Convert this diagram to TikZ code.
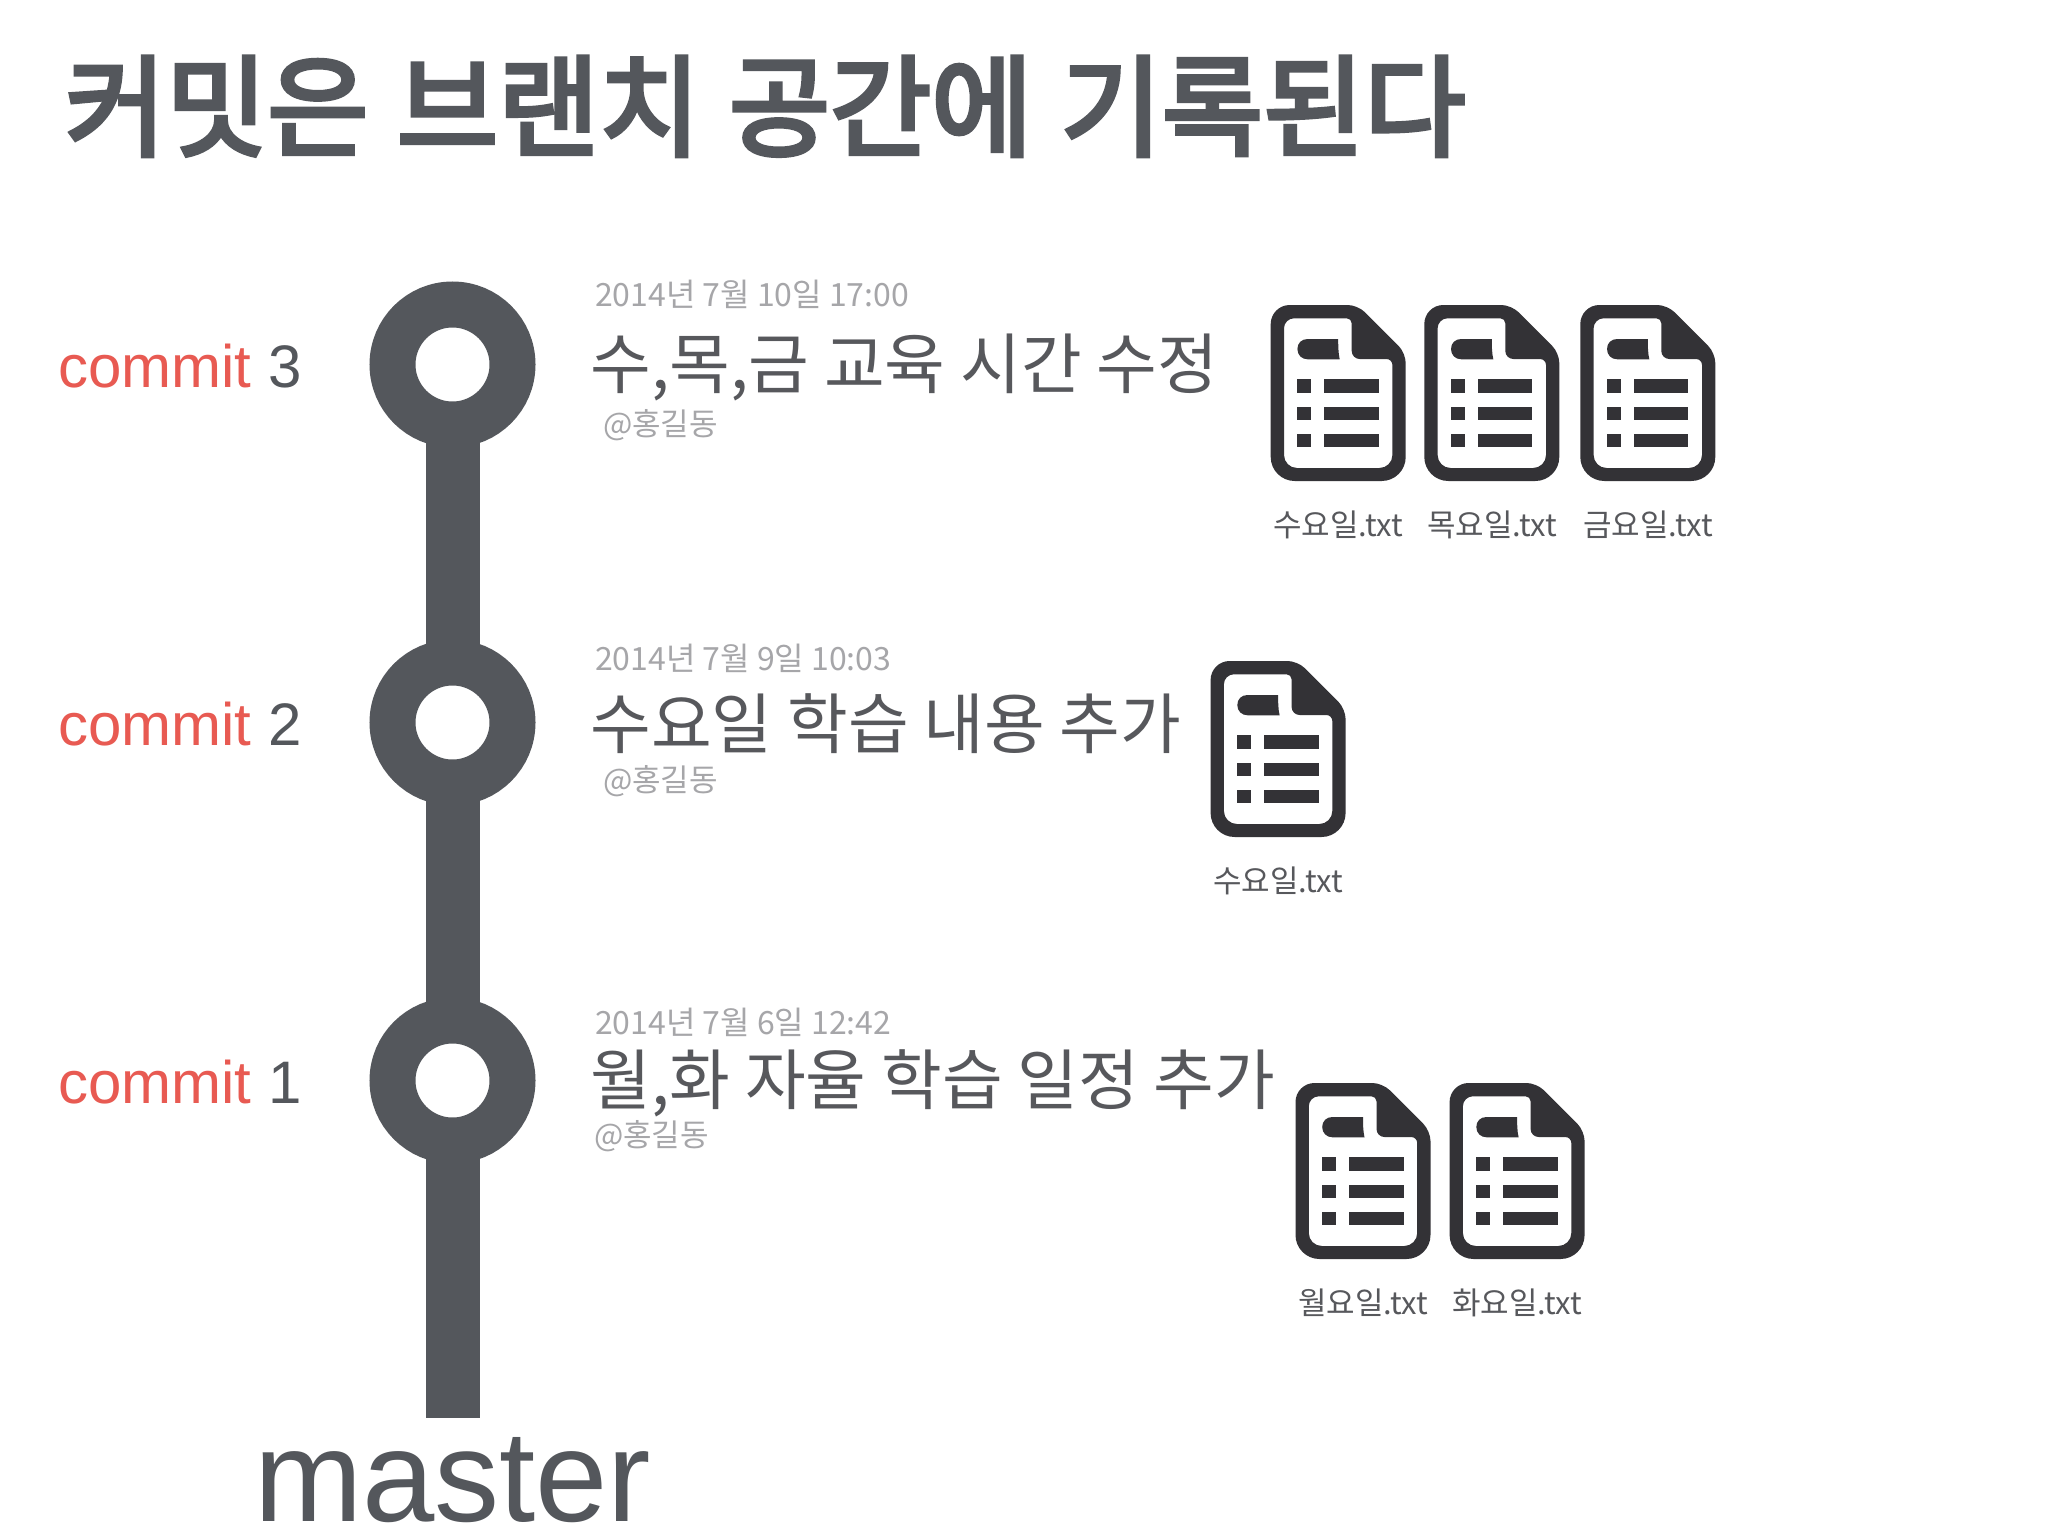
\documentclass[tikz,border=0pt]{standalone}
\usepackage{fontspec}
\usetikzlibrary{backgrounds}
\setmainfont{Liberation Sans}
\newfontfamily\kr{Noto Sans CJK KR}
\newfontfamily\krtitle[FakeBold=4,WordSpace=1.15]{Noto Sans CJK KR}
\definecolor{trunkgray}{HTML}{54575C}
\definecolor{iconblack}{HTML}{333236}
\definecolor{softgray}{HTML}{A6A6A9}
\definecolor{headgray}{HTML}{57585C}
\definecolor{commitred}{HTML}{E85A52}
\newcommand{\fsz}[1]{\fontsize{#1}{#1}\selectfont}
\tikzset{
  x=1pt,y=-1pt,
  every node/.style={inner sep=0pt,outer sep=0pt},
  ring/.style={circle,draw=trunkgray,fill=white,line width=46pt,minimum size=120pt},
  trunk/.style={draw=trunkgray,line width=54pt},
  titletext/.style={anchor=base west,text=trunkgray,font=\krtitle\fsz{110}},
  commitlabel/.style={anchor=base west,text=trunkgray,font=\fsz{60}},
  datetext/.style={anchor=west,text=softgray,font=\kr\fsz{32}},
  headtext/.style={anchor=west,text=headgray,font=\kr\fsz{66}},
  authortext/.style={anchor=west,text=softgray,font=\kr\fsz{31}},
  filetext/.style={anchor=center,text=headgray,font=\kr\fsz{31}},
  fileicon/.pic={
    \fill[iconblack,even odd rule]
      [rounded corners=19pt] (0,88) -- (0,0) [rounded corners=10pt] -- (87,0) -- (135,48) [rounded corners=24pt] -- (135,176) -- (0,176) -- cycle
      [rounded corners=10pt] (13.3,88) -- (13.3,13.3) [rounded corners=5pt] -- (81,13.3) [rounded corners=8pt] -- (81,54) [rounded corners=6pt] -- (121.7,54) [rounded corners=13pt] -- (121.7,163) -- (13.3,163) -- cycle;
    \fill[iconblack] (69,54.3) .. controls (67.5,48) and (67.5,40) .. (67.5,34) -- (37,34) .. controls (31,34) and (26.7,38) .. (26.7,44) .. controls (26.7,50) and (31,54.3) .. (37,54.3) -- cycle;
    \foreach \rowy in {74.3,101.7,128.7}{
      \fill[iconblack] (26.7,\rowy) rectangle (40.3,\rowy+13.7);
      \fill[iconblack] (53.7,\rowy) rectangle (108,\rowy+13.7);
    }
  },
}
\begin{document}
\begin{tikzpicture}
\useasboundingbox (0,0) rectangle (2048,1536);
\node[titletext] (title) at (65,147.5) {커밋은 브랜치 공간에 기록된다};

\node[ring] (c3) at (452.5,364.5) {};
\node[ring] (c2) at (452.5,722.5) {};
\node[ring] (c1) at (452.5,1080.5) {};
\coordinate (trunkend) at (452.5,1418);
\begin{scope}[on background layer]
  \fill[white] (0,0) rectangle (2048,1536);
  \draw[trunk] (c3.center) -- (c2.center);
  \draw[trunk] (c2.center) -- (c1.center);
  \draw[trunk] (c1.center) -- (trunkend);
\end{scope}

\node[commitlabel] (l3) at (58,387) {\textcolor{commitred}{commit} 3};
\node[commitlabel] (l2) at (58,745) {\textcolor{commitred}{commit} 2};
\node[commitlabel] (l1) at (58,1103) {\textcolor{commitred}{commit} 1};
\node[anchor=base west,text=trunkgray,font=\fsz{130}] (branch) at (254,1521) {master};

\node[datetext] (d3) at (595,294) {2014년 7월 10일 17:00};
\node[headtext] (h3) at (590.5,367) {수,목,금 교육 시간 수정};
\node[authortext] (a3) at (603,425) {@홍길동};
\node[datetext] (d2) at (595,658) {2014년 7월 9일 10:03};
\node[headtext] (h2) at (590.5,724) {수요일 학습 내용 추가};
\node[authortext] (a2) at (603,781) {@홍길동};
\node[datetext] (d1) at (595,1022) {2014년 7월 6일 12:42};
\node[headtext] (h1) at (590.5,1083) {월,화 자율 학습 일정 추가};
\node[authortext] (a1) at (594,1136) {@홍길동};

\pic at (1270.7,305) {fileicon};
\pic at (1424.3,305) {fileicon};
\pic at (1580.3,305) {fileicon};
\node[filetext] (f1) at (1338,525) {수요일.txt};
\node[filetext] (f2) at (1492,525) {목요일.txt};
\node[filetext] (f3) at (1648,525) {금요일.txt};

\pic at (1210.6,661) {fileicon};
\node[filetext] (f4) at (1278,881) {수요일.txt};

\pic at (1295.5,1083) {fileicon};
\pic at (1449.6,1083) {fileicon};
\node[filetext] (f5) at (1363,1303) {월요일.txt};
\node[filetext] (f6) at (1517,1303) {화요일.txt};
\end{tikzpicture}
\end{document}
